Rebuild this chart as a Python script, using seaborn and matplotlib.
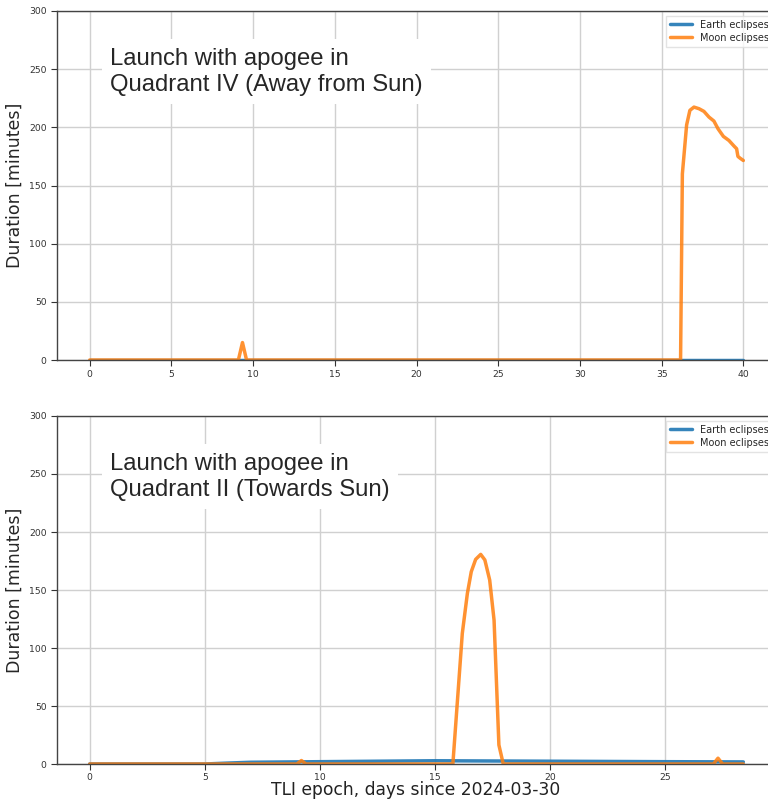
import matplotlib.pyplot as plt
import seaborn as sns
import pandas as pd

# Quadrant IV launch (top panel)
q4_earth_days = [0, 10, 20, 30, 40]
q4_earth_min = [0, 0, 0, 0, 0]
q4_moon_days = [0, 9.1, 9.35, 9.6, 36.16, 36.27, 36.53, 36.73, 36.98, 37.29,
                37.59, 37.9, 38.2, 38.45, 38.78, 39.12, 39.43, 39.59, 39.67, 39.8, 40.0]
q4_moon_min = [0, 0, 15, 0, 0, 160, 202, 214.6, 217.4, 216,
               213.7, 208.8, 205.4, 198.8, 192.2, 188.7, 183.9, 181.6, 175, 173.5, 171.5]

# Quadrant II launch (bottom panel)
q2_earth_days = [0, 5, 6, 7, 10, 15, 20, 25, 28.4]
q2_earth_min = [0, 0, 0.8, 1.5, 2.0, 2.8, 2.4, 2.0, 1.8]
q2_moon_days = [0, 9.0, 9.2, 9.4, 15.78, 16.19, 16.41, 16.58, 16.77, 16.99, 17.17,
                17.38, 17.57, 17.78, 17.97, 27.1, 27.3, 27.5, 28.4]
q2_moon_min = [0, 0, 3, 0, 0, 112.6, 147, 165.8, 176.4, 180.7, 175.9,
               158.6, 124, 16.4, 0, 0, 5, 0, 0]

panels = [
    ("Launch with apogee in\nQuadrant IV (Away from Sun)",
     q4_earth_days, q4_earth_min, q4_moon_days, q4_moon_min, (-2.0, 42.0)),
    ("Launch with apogee in\nQuadrant II (Towards Sun)",
     q2_earth_days, q2_earth_min, q2_moon_days, q2_moon_min, (-1.42, 29.82)),
]

sns.set_style("ticks")
plt.rcParams['font.family'] = ['DejaVu Sans']

W, H = 768, 801
fig = plt.figure(figsize=(W / 100, H / 100), dpi=100)

# axes boxes in pixels: left, top, right, bottom
boxes = [(57, 11, 776, 360), (57, 416, 776, 764)]
blue, orange = sns.color_palette("tab10")[0], sns.color_palette("tab10")[1]

for i, ((title, ed, em, md, mm, xl), (l, t, r, b)) in enumerate(zip(panels, boxes)):
    ax = fig.add_axes([l / W, 1 - b / H, (r - l) / W, (b - t) / H])
    ax.grid(True, color='#d0d0d0', linewidth=1.0)
    ax.set_axisbelow(True)
    sns.lineplot(data=pd.DataFrame({'d': ed, 'm': em}), x='d', y='m', ax=ax,
                 color=blue, linewidth=2.5, alpha=0.9, label='Earth eclipses')
    sns.lineplot(data=pd.DataFrame({'d': md, 'm': mm}), x='d', y='m', ax=ax,
                 color=orange, linewidth=2.5, alpha=0.85, label='Moon eclipses')
    ax.set_xlim(*xl)
    ax.set_ylim(0, 300)
    ax.set_yticks(range(0, 301, 50))
    ax.set_xticks(range(0, int(xl[1]) + 1, 5))
    ax.tick_params(labelsize=6.7, colors='#333333', length=4)
    if i == 1:
        ax.tick_params(axis='x', pad=2.5)
    for s in ax.spines.values():
        s.set_color('#444444')
        s.set_linewidth(1.0)
    ax.set_ylabel('Duration [minutes]', fontsize=12.5, labelpad=4)
    ax.set_xlabel('')
    ax.legend(loc='upper right', bbox_to_anchor=((778 - l) / (r - l), 1.0),
              fontsize=7, frameon=True, handlelength=2.3, borderpad=0.4,
              labelspacing=0.3, fancybox=False, edgecolor='#dddddd')
    ax.text(0.074, 0.895, title, transform=ax.transAxes, fontsize=17.2,
            family='Liberation Sans', va='top', ha='left', linespacing=1.25,
            bbox=dict(facecolor='white', edgecolor='none', pad=6))

fig.text(416 / W, 1 - 790 / H, 'TLI epoch, days since 2024-03-30', fontsize=12.3,
         ha='center', va='center', color='#222222')

fig.savefig('out.png', dpi=100)
